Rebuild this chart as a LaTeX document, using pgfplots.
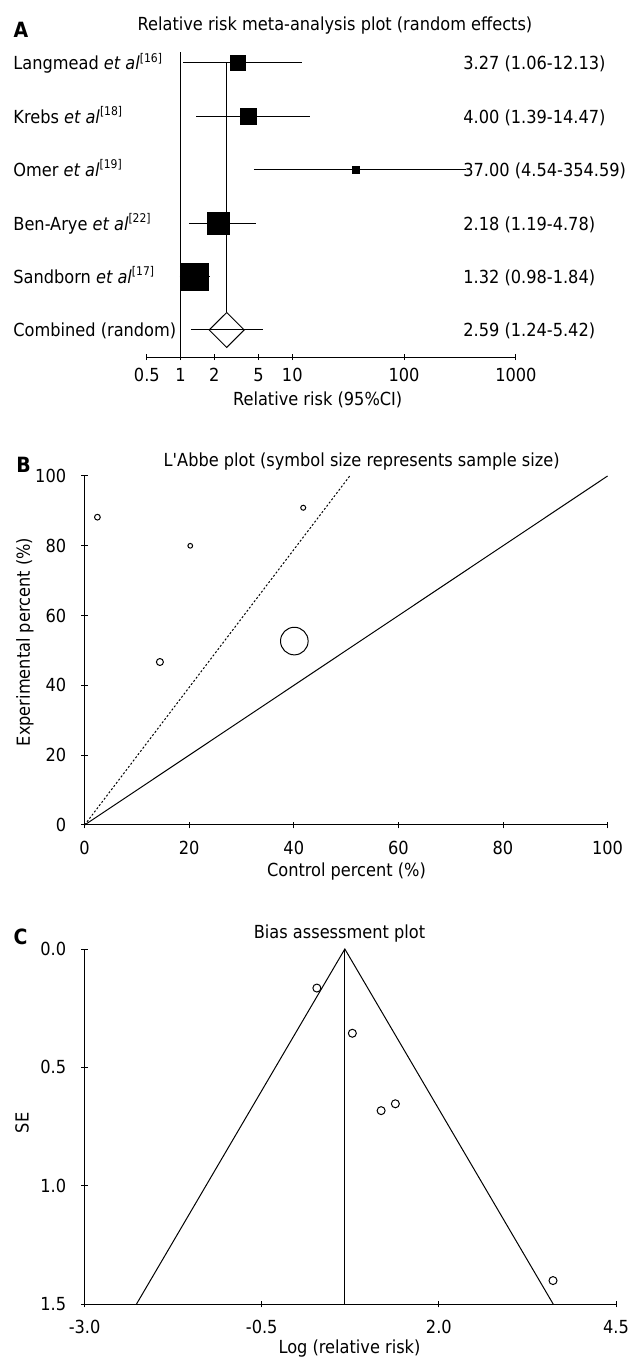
\documentclass[border=0pt]{standalone}
\usepackage{fontspec}
\setmainfont{DejaVu Sans Condensed}
\usepackage{pgfplots}
\pgfplotsset{compat=1.18}

\pgfplotsset{
  panel/.style={
    scale only axis, clip=false, anchor=south west,
    every tick/.style={black, line width=0.5pt},
    tick align=inside,
    major tick length=3.4pt,
    ticklabel style={font=\fontsize{9pt}{11pt}\selectfont},
    /pgf/number format/assume math mode=true,
  },
  plain lines/.style={
    axis line style={black, line width=0.5pt, -},
    every outer x axis line/.append style={-},
    every outer y axis line/.append style={-},
    every inner x axis line/.append style={-},
    every inner y axis line/.append style={-},
  },
}
\tikzset{
  thin line/.style={black, line width=0.5pt},
  row text/.style={anchor=base west, inner sep=0pt},
}

\begin{document}
\begin{tikzpicture}[font=\fontsize{9pt}{11pt}\selectfont]
\useasboundingbox (0,0) rectangle (315.5pt,681pt);

% ---------------- A: forest plot ----------------
\begin{axis}[panel, at={(73.43pt,502.35pt)}, width=184.5pt, height=155.3pt,
  xmode=log, xmin=0.5, xmax=1000, ymin=0.489, ymax=6.3,
  axis x line=bottom, axis y line=none, plain lines,
  xtick={0.5,1,2,5,10,100,1000}, xticklabels={0.5,1,2,5,10,100,1000},
  major tick length=2.8pt,
  xticklabel style={yshift=-0.6pt},
]
% reference lines: no effect and pooled estimate
\addplot[thin line] coordinates {(1,0.489) (1,6.2)};
\addplot[thin line] coordinates {(2.59,1.327) (2.59,6)};
% study confidence intervals
\addplot[thin line] coordinates {(1.06,6) (12.13,6)};
\addplot[thin line] coordinates {(1.39,5) (14.47,5)};
\addplot[thin line] coordinates {(4.54,4) (354.59,4)};
\addplot[thin line] coordinates {(1.19,3) (4.78,3)};
\addplot[thin line] coordinates {(0.98,2) (1.84,2)};
\addplot[thin line] coordinates {(1.24,1) (5.42,1)};
% point estimates, square area by weight
\addplot[only marks, mark=square*, mark size=3.75pt, mark options={black, line width=0.1pt}] coordinates {(3.27,6)};
\addplot[only marks, mark=square*, mark size=4pt, mark options={black, line width=0.1pt}] coordinates {(4.00,5)};
\addplot[only marks, mark=square*, mark size=1.7pt, mark options={black, line width=0.1pt}] coordinates {(37.00,4)};
\addplot[only marks, mark=square*, mark size=5.5pt, mark options={black, line width=0.1pt}] coordinates {(2.18,3)};
\addplot[only marks, mark=square*, mark size=6.85pt, mark options={black, line width=0.1pt}] coordinates {(1.32,2)};
% pooled estimate diamond
\addplot[thin line, line join=miter] coordinates {(1.806,1) (2.59,1.327) (3.714,1) (2.59,0.673) (1.806,1) (2.59,1.327)};
% study labels
\node[row text] at (axis cs:0.03175,5.869) {Langmead \textit{et al}\textsuperscript{[16]}};
\node[row text] at (axis cs:0.03175,4.869) {Krebs \textit{et al}\textsuperscript{[18]}};
\node[row text] at (axis cs:0.03175,3.869) {Omer \textit{et al}\textsuperscript{[19]}};
\node[row text] at (axis cs:0.03175,2.869) {Ben-Arye \textit{et al}\textsuperscript{[22]}};
\node[row text] at (axis cs:0.03175,1.869) {Sandborn \textit{et al}\textsuperscript{[17]}};
\node[row text] at (axis cs:0.03175,0.869) {Combined (random)};
% relative risk (95% CI) per row
\node[row text] at (axis cs:336.5,5.869) {3.27 (1.06-12.13)};
\node[row text] at (axis cs:336.5,4.869) {4.00 (1.39-14.47)};
\node[row text] at (axis cs:336.5,3.869) {37.00 (4.54-354.59)};
\node[row text] at (axis cs:336.5,2.869) {2.18 (1.19-4.78)};
\node[row text] at (axis cs:336.5,1.869) {1.32 (0.98-1.84)};
\node[row text] at (axis cs:336.5,0.869) {2.59 (1.24-5.42)};
\end{axis}
\node[anchor=base, inner sep=0pt] at (167.5pt,665.65pt) {Relative risk meta-analysis plot (random effects)};
\node[anchor=base west, inner sep=0pt, font=\fontsize{10.5pt}{12pt}\selectfont\bfseries] at (6.65pt,662.35pt) {A};
\node[inner sep=0pt] at (158.85pt,481pt) {Relative risk (95\%CI)};

% ---------------- B: L'Abbe plot ----------------
\begin{axis}[panel, at={(42.3pt,268.5pt)}, width=261.5pt, height=174.5pt,
  xmin=0, xmax=100, ymin=0, ymax=100, axis lines=left, plain lines,
  xtick={0,20,...,100}, ytick={0,20,...,100},
  xticklabel style={yshift=-3pt}, yticklabel style={xshift=-4pt},
]
\addplot[thin line] coordinates {(0,0) (100,100)};
\addplot[thin line, dash pattern=on 1pt off 1pt] coordinates {(0,0) (50.7,100)};
% control %, experimental %; circle size by sample size
\addplot[only marks, mark=o, mark size=1.43pt, mark options={black, line width=0.5pt}] coordinates {(2.45,88.2)};
\addplot[only marks, mark=o, mark size=1.18pt, mark options={black, line width=0.5pt}] coordinates {(20.2,80.0)};
\addplot[only marks, mark=o, mark size=1.25pt, mark options={black, line width=0.5pt}] coordinates {(41.8,90.9)};
\addplot[only marks, mark=o, mark size=1.75pt, mark options={black, line width=0.5pt}] coordinates {(14.4,46.7)};
\addplot[only marks, mark=o, mark size=6.9pt, mark options={black, line width=0.5pt}] coordinates {(40.1,52.7)};
\end{axis}
\node[anchor=base, inner sep=0pt] at (180.85pt,447.65pt) {L\textquotesingle Abbe plot (symbol size represents sample size)};
\node[anchor=base west, inner sep=0pt, font=\fontsize{10.5pt}{12pt}\selectfont\bfseries] at (8pt,444.65pt) {B};
\node[inner sep=0pt] at (173.25pt,245pt) {Control percent (\%)};
\node[inner sep=0pt, rotate=90] at (12.5pt,360pt) {Experimental percent (\%)};

% ---------------- C: funnel plot ----------------
\begin{axis}[panel, at={(42.3pt,29pt)}, width=265.7pt, height=177.5pt,
  xmin=-3, xmax=4.5, ymin=0, ymax=1.5, y dir=reverse,
  axis x line=bottom, axis y line=left, plain lines,
  xtick={-3,-0.5,2,4.5}, xticklabels={-3.0,-0.5,2.0,4.5},
  ytick={0,0.5,1,1.5}, yticklabels={0.0,0.5,1.0,1.5},
  xticklabel style={yshift=-3pt}, yticklabel style={xshift=-4pt},
]
\addplot[thin line] coordinates {(-2.267,1.5) (0.673,0) (3.613,1.5)};
\addplot[thin line] coordinates {(0.673,0) (0.673,1.5)};
% log relative risk vs standard error
\addplot[only marks, mark=o, mark size=2pt, mark options={black, line width=0.5pt}] coordinates {
  (0.278,0.165) (0.779,0.356) (1.185,0.683) (1.386,0.654) (3.611,1.401)};
\end{axis}
\node[anchor=base, inner sep=0pt] at (169.75pt,211.85pt) {Bias assessment plot};
\node[anchor=base west, inner sep=0pt, font=\fontsize{10.5pt}{12pt}\selectfont\bfseries] at (6.65pt,208.5pt) {C};
\node[inner sep=0pt] at (174.75pt,6.5pt) {Log (relative risk)};
\node[inner sep=0pt, rotate=90] at (11pt,119.5pt) {SE};
\end{tikzpicture}
\end{document}
